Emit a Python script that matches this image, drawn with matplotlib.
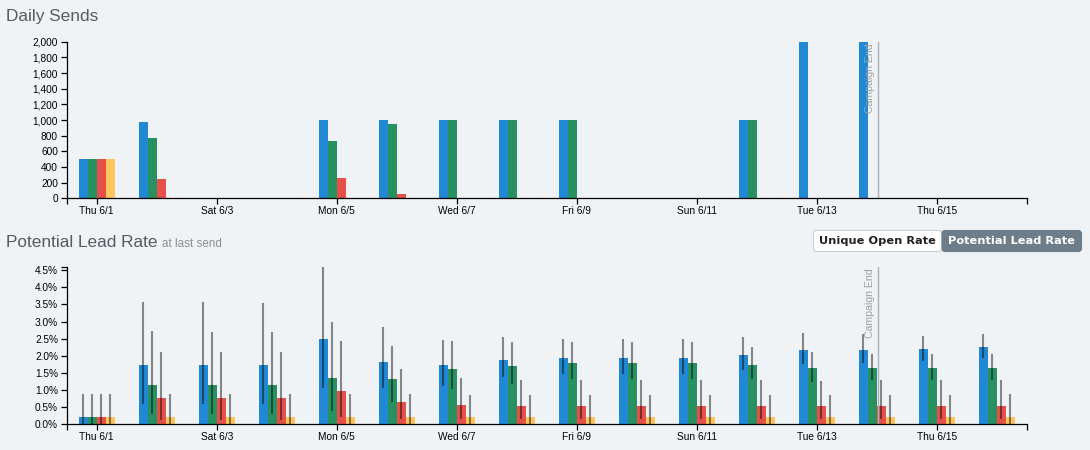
import matplotlib
matplotlib.use("Agg")
import matplotlib.pyplot as plt
import matplotlib.patches as mpatches
import matplotlib.transforms as mtrans
from matplotlib.ticker import FuncFormatter
import numpy as np

plt.rcParams['font.family'] = ['Liberation Sans', 'DejaVu Sans']

# ---------------- data ----------------
days = ["6/1", "6/2", "6/3", "6/4", "6/5", "6/6", "6/7", "6/8",
        "6/9", "6/10", "6/11", "6/12", "6/13", "6/14", "6/15", "6/16"]
tick_idx = [0, 2, 4, 6, 8, 10, 12, 14]
tick_labels = ["Thu 6/1", "Sat 6/3", "Mon 6/5", "Wed 6/7",
               "Fri 6/9", "Sun 6/11", "Tue 6/13", "Thu 6/15"]
campaign_end = 13.02  # day index (6/14)

# Daily sends
sends_blue   = [500, 980, 0, 0, 1000, 1000, 1000, 1000, 1000, 0, 0, 1000, 2000, 2000, 0, 0]
sends_green  = [500, 775, 0, 0, 735, 950, 1000, 1000, 1000, 0, 0, 1000, 0, 0, 0, 0]
sends_red    = [500, 250, 0, 0, 260, 55, 0, 0, 0, 0, 0, 0, 0, 0, 0, 0]
sends_yellow = [500, 0, 0, 0, 0, 0, 0, 0, 0, 0, 0, 0, 0, 0, 0, 0]

# Potential lead rate (%), with interval low/high
rate_blue    = [0.20, 1.74, 1.74, 1.74, 2.50, 1.81, 1.74, 1.89, 1.95, 1.95, 1.95, 2.03, 2.18, 2.18, 2.21, 2.27]
rate_blue_lo = [0.00, 0.60, 0.60, 0.60, 1.07, 1.05, 1.13, 1.37, 1.46, 1.46, 1.46, 1.60, 1.75, 1.78, 1.84, 1.93]
rate_blue_hi = [0.88, 3.57, 3.57, 3.53, 4.61, 2.83, 2.47, 2.56, 2.50, 2.50, 2.50, 2.56, 2.68, 2.65, 2.59, 2.65]

rate_green    = [0.20, 1.15, 1.15, 1.15, 1.36, 1.33, 1.62, 1.71, 1.80, 1.80, 1.80, 1.74, 1.65, 1.65, 1.65, 1.65]
rate_green_lo = [0.00, 0.30, 0.30, 0.30, 0.40, 0.66, 1.02, 1.19, 1.31, 1.31, 1.31, 1.31, 1.25, 1.28, 1.28, 1.28]
rate_green_hi = [0.88, 2.74, 2.70, 2.70, 3.00, 2.30, 2.44, 2.39, 2.39, 2.39, 2.39, 2.27, 2.12, 2.06, 2.06, 2.06]

rate_red    = [0.20, 0.77, 0.77, 0.77, 0.98, 0.65, 0.57, 0.54, 0.54, 0.54, 0.54, 0.54, 0.54, 0.54, 0.54, 0.54]
rate_red_lo = [0.00, 0.13, 0.13, 0.13, 0.22, 0.15, 0.16, 0.15, 0.15, 0.15, 0.15, 0.15, 0.15, 0.15, 0.15, 0.15]
rate_red_hi = [0.88, 2.10, 2.10, 2.10, 2.42, 1.62, 1.36, 1.30, 1.30, 1.30, 1.30, 1.30, 1.27, 1.30, 1.30, 1.30]

rate_yellow    = [0.20] * 16
rate_yellow_lo = [0.00] * 16
rate_yellow_hi = [0.88, 0.88, 0.88, 0.88, 0.88, 0.89, 0.86, 0.86, 0.86, 0.86, 0.86, 0.86, 0.86, 0.86, 0.86, 0.89]

colors = ["#2188d4", "#279162", "#e5504a", "#fcc65d"]
BG = "#eff3f6"

# ---------------- figure ----------------
W, H = 1090, 450
fig = plt.figure(figsize=(W / 100, H / 100), dpi=100, facecolor=BG)


def ax_rect(x0, y_top, x1, y_bot):
    return [x0 / W, 1 - y_bot / H, (x1 - x0) / W, (y_bot - y_top) / H]


ax1 = fig.add_axes(ax_rect(66.7, 41.7, 1027, 198.3))
ax2 = fig.add_axes(ax_rect(66.7, 266.5, 1027, 424.3))

x = np.arange(len(days))
bw = 0.15
offsets = [-1.5 * bw, -0.5 * bw, 0.5 * bw, 1.5 * bw]

sends = [sends_blue, sends_green, sends_red, sends_yellow]
rates = [rate_blue, rate_green, rate_red, rate_yellow]
rates_lo = [rate_blue_lo, rate_green_lo, rate_red_lo, rate_yellow_lo]
rates_hi = [rate_blue_hi, rate_green_hi, rate_red_hi, rate_yellow_hi]

for s, off, c in zip(sends, offsets, colors):
    ax1.bar(x + off, s, width=bw, color=c, linewidth=0, zorder=2)

for r, off, c in zip(rates, offsets, colors):
    ax2.bar(x + off, r, width=bw, color=c, linewidth=0, zorder=2)
for lo, hi, off in zip(rates_lo, rates_hi, offsets):
    ax2.vlines(x + off, lo, hi, colors=[(0, 0, 0, 0.45)], linewidth=1.5, zorder=3)

ymax2 = max(max(h) for h in rates_hi)
ax1.set_ylim(0, 2000)
ax2.set_ylim(0, ymax2)

for ax in (ax1, ax2):
    ax.set_facecolor("none")
    ax.set_xlim(-0.5, 15.5)
    for sp in ("top", "right"):
        ax.spines[sp].set_visible(False)
    for sp in ("left", "bottom"):
        ax.spines[sp].set_color("black")
        ax.spines[sp].set_linewidth(0.9)
        ax.spines[sp].set_zorder(4)
    ax.set_xticks(tick_idx)
    ax.set_xticklabels(tick_labels)
    ax.set_xticks([-0.5, 15.5], minor=True)
    ax.tick_params(axis="both", which="both", direction="out", length=4.3,
                   width=0.9, color="black", labelsize=7.3, labelcolor="black")
    ax.tick_params(axis="x", pad=1.5)
    ax.tick_params(axis="y", pad=2)
    # campaign end marker
    ax.axvline(campaign_end, color="#a9b0b8", linewidth=1, zorder=3)
    ax.annotate("Campaign End", xy=(campaign_end, 1),
                xycoords=mtrans.blended_transform_factory(ax.transData, ax.transAxes),
                xytext=(-2, -1.5), textcoords="offset points",
                rotation=90, ha="right", va="top", fontsize=7.6,
                color="#9aa1a8", zorder=5)

ax1.set_yticks(np.arange(0, 2001, 200))
ax1.yaxis.set_major_formatter(FuncFormatter(lambda v, p: f"{int(v):,}"))

ax2.set_yticks(np.arange(0, 4.51, 0.5))
ax2.yaxis.set_major_formatter(FuncFormatter(lambda v, p: f"{v:.1f}%"))
ax2.set_yticks([ymax2], minor=True)
ax2.tick_params(axis="y", which="minor", labelleft=False)

# ---------------- titles ----------------
fig.text(6.5 / W, 1 - 21 / H, "Daily Sends", fontsize=12.4, color="#555b62",
         ha="left", va="baseline")
fig.text(6.5 / W, 1 - 246.7 / H, "Potential Lead Rate", fontsize=12.4,
         color="#555b62", ha="left", va="baseline")
fig.text(162.5 / W, 1 - 246.7 / H, "at last send", fontsize=8.4, color="#8a8f94",
         ha="left", va="baseline")

# ---------------- toggle buttons ----------------
ident = mtrans.IdentityTransform()
b1 = mpatches.FancyBboxPatch((813.5, H - 251.5), 128.5, 21,
                             boxstyle="round,pad=0,rounding_size=3",
                             facecolor="white", edgecolor="#c9ced3",
                             linewidth=0.8, transform=ident)
b2 = mpatches.FancyBboxPatch((942, H - 251.5), 139.5, 21,
                             boxstyle="round,pad=0,rounding_size=3",
                             facecolor="#6e7d8a", edgecolor="#6e7d8a",
                             linewidth=0.8, transform=ident)
fig.add_artist(b1)
fig.add_artist(b2)
fig.text(877.8 / W, 1 - 241 / H, "Unique Open Rate", fontsize=8.2,
         fontweight="semibold", family="DejaVu Sans", color="#222222",
         ha="center", va="center")
fig.text(1011.5 / W, 1 - 241 / H, "Potential Lead Rate", fontsize=8.2,
         fontweight="bold", family="DejaVu Sans", color="white",
         ha="center", va="center")

fig.savefig("out.png", dpi=100, facecolor=BG)
